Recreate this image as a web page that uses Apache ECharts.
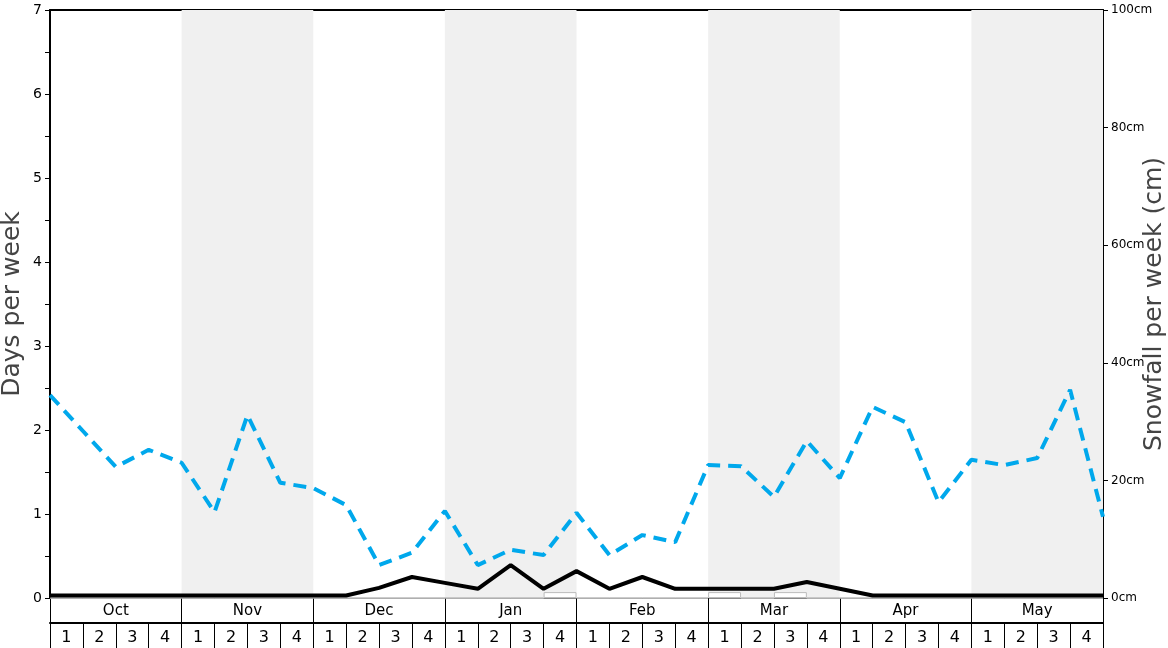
<!DOCTYPE html>
<html><head><meta charset="utf-8">
<script src="https://cdn.jsdelivr.net/npm/echarts@6/dist/echarts.min.js"></script>
<style>html,body{margin:0;padding:0;background:#fff}#c{width:1168px;height:648px}</style>
</head><body><div id="c"></div>
<script>
const months = ['Oct','Nov','Dec','Jan','Feb','Mar','Apr','May'];
const weeks = ['1','2','3','4','1','2','3','4','1','2','3','4','1','2','3','4','1','2','3','4','1','2','3','4','1','2','3','4','1','2','3','4'];
// snowfall per week (cm), one point per week boundary
const snowfall = [34.5,28.4,22.3,25.2,23.0,14.6,31.1,19.6,18.7,15.8,5.6,7.7,14.8,5.6,8.2,7.3,14.5,7.3,10.7,9.5,22.6,22.4,17.2,26.7,20.4,32.5,29.9,16.3,23.5,22.6,23.8,35.4,13.8];
// snow days per week
const snowDays = [0.03,0.03,0.03,0.03,0.03,0.03,0.03,0.03,0.03,0.03,0.12,0.25,0.18,0.11,0.39,0.11,0.32,0.11,0.25,0.11,0.11,0.11,0.11,0.19,0.11,0.03,0.03,0.03,0.03,0.03,0.03,0.03,0.03];
// small weekly bars (days)
const weekBars = [0,0,0,0,0,0,0,0,0,0,0,0,0,0,0,0.07,0,0,0,0,0.07,0,0.07,0,0,0,0,0,0,0,0,0];
const shadedMonths = [[4,8],[12,16],[20,24],[28,32]];

const F = 'DejaVu Sans';
const chart = echarts.init(document.getElementById('c'));
chart.setOption({
  animation: false,
  grid: {left: 50, right: 65, top: 10, bottom: 50, containLabel: false, outerBoundsMode: 'none'},
  xAxis: [
    {type: 'value', min: 0, max: 32, show: false},
    {type: 'category', data: months, position: 'bottom', boundaryGap: true,
     axisLine: {show: true, lineStyle: {color: '#888', width: 1}},
     axisTick: {show: true, length: 25, interval: 0, lineStyle: {color: '#000', width: 1}},
     axisLabel: {margin: 6, fontSize: 15, color: '#000', fontFamily: F, interval: 0},
     splitLine: {show: false}},
    {type: 'category', data: weeks, position: 'bottom', offset: 25, boundaryGap: true,
     axisLine: {show: true, lineStyle: {color: '#000', width: 2}},
     axisTick: {show: true, length: 25, interval: 0, lineStyle: {color: '#000', width: 1}},
     axisLabel: {margin: 7, fontSize: 16, color: '#000', fontFamily: F, interval: 0},
     splitLine: {show: false}},
    {type: 'category', data: weeks, position: 'top',
     axisLine: {show: true, lineStyle: {color: '#000', width: 2}},
     axisTick: {show: false}, axisLabel: {show: false}}
  ],
  yAxis: [
    {type: 'value', min: 0, max: 7, interval: 0.5, position: 'left',
     name: 'Days per week', nameLocation: 'middle', nameGap: 25, nameRotate: 90,
     nameMoveOverlap: false,
     nameTextStyle: {fontSize: 25, color: '#444', fontFamily: F},
     axisLine: {show: true, lineStyle: {color: '#000', width: 2}},
     axisTick: {show: true, length: 5, lineStyle: {color: '#000'}},
     axisLabel: {fontSize: 14, color: '#000', fontFamily: F, margin: 8,
       formatter: v => (v % 1 === 0 ? String(v) : '')},
     splitLine: {show: false}},
    {type: 'value', min: 0, max: 100, interval: 20, position: 'right',
     name: 'Snowfall per week (cm)', nameLocation: 'middle', nameGap: 39, nameRotate: 90,
     nameMoveOverlap: false,
     nameTextStyle: {fontSize: 25, color: '#444', fontFamily: F},
     axisLine: {show: true, lineStyle: {color: '#000', width: 2}},
     axisTick: {show: true, length: 5, lineStyle: {color: '#000'}},
     axisLabel: {fontSize: 12, color: '#000', fontFamily: F, margin: 8, formatter: '{value}cm'},
     splitLine: {show: false}}
  ],
  series: [
    {type: 'line', xAxisIndex: 0, yAxisIndex: 0, data: [], silent: true,
     markArea: {silent: true, itemStyle: {color: '#f0f0f0'},
       data: shadedMonths.map(m => [{xAxis: m[0]}, {xAxis: m[1]}])}},
    {type: 'bar', xAxisIndex: 2, yAxisIndex: 0, data: weekBars, barWidth: '100%',
     itemStyle: {color: '#fff', borderColor: '#bbb', borderWidth: 1}},
    {type: 'line', xAxisIndex: 0, yAxisIndex: 1, data: snowfall.map((v, i) => [i, v]),
     showSymbol: false, lineStyle: {color: '#00a8ec', width: 4, type: [13, 8]}},
    {type: 'line', xAxisIndex: 0, yAxisIndex: 0, data: snowDays.map((v, i) => [i, v]),
     showSymbol: false, lineStyle: {color: '#000', width: 4}}
  ]
});
</script></body></html>
